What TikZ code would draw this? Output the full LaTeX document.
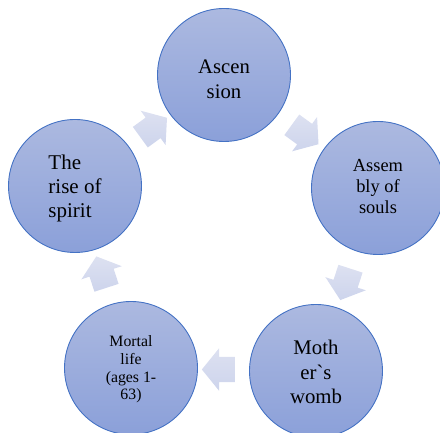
\documentclass[tikz,border=0pt]{standalone}
\usepackage{fontspec}
\setmainfont{Liberation Serif}[Ligatures=TeXOff]
\usetikzlibrary{shapes.arrows,calc}
\definecolor{ringtop}{RGB}{172,185,224}
\definecolor{ringbot}{RGB}{139,160,217}
\definecolor{ringline}{RGB}{68,114,196}
\definecolor{flowtop}{RGB}{221,225,241}
\definecolor{flowbot}{RGB}{205,212,236}

\begin{document}
\begin{tikzpicture}[x=1pt,y=1pt,
	main node/.style={circle, draw=ringline, line width=0.9pt, top color=ringtop, bottom color=ringbot, minimum size=133pt, inner sep=0pt},
	label node/.style={align=center, inner sep=0pt},
	flow arrow/.style={single arrow, draw=none, top color=flowtop, bottom color=flowbot, inner xsep=0pt, inner ysep=12.5pt, minimum height=33pt, single arrow head extend=8.5pt, single arrow tip angle=102}]
			\clip (0,0) rectangle (440,433);
			% Nodes
			\node[main node] (1) at (224,358) {};
			\node[main node] (2) at (378,245) {};
			\node[main node] (3) at (316,62) {};
			\node[main node] (4) at (131,65) {};
			\node[main node] (5) at (75,247) {};
			
			% Texts
			\node[label node, font=\fontsize{20.7}{25}\selectfont, yshift=-4.5pt] (t1) at (1) {Ascen\\sion};
			\node[label node, font=\fontsize{18.4}{21}\selectfont, yshift=1pt] (t2) at (2) {Assem\\bly of\\souls};
			\node[label node, font=\fontsize{20.8}{24.5}\selectfont, yshift=-1pt] (t3) at (3) {Moth\\er`s\\womb};
			\node[label node, font=\fontsize{15.8}{17.7}\selectfont, yshift=-1.5pt] (t4) at (4) {Mortal\\life\\(ages 1-\\63)};
			\node[label node, align=left, font=\fontsize{21}{24}\selectfont, yshift=-2pt] (t5) at (5) {The\\rise of\\spirit};
			
			% Arrows
			\node[flow arrow, rotate=-36] (a12) at ($(1)!0.5!(2)$) {};
			\node[flow arrow, rotate=-108] (a23) at ($(2)!0.5!(3)$) {};
			\node[flow arrow, rotate=180] (a34) at ($(3)!0.5!(4)$) {};
			\node[flow arrow, rotate=108] (a45) at ($(4)!0.5!(5)$) {};
			\node[flow arrow, rotate=36] (a51) at ($(5)!0.5!(1)$) {};
			
		\end{tikzpicture}
\end{document}
